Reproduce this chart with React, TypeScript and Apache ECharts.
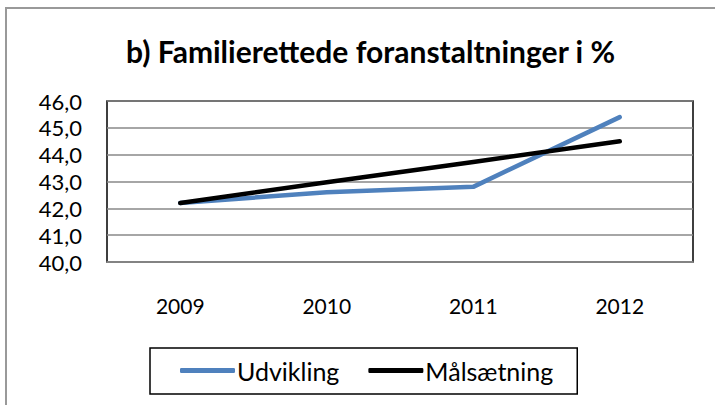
import React, { useEffect, useRef } from "react";
import * as echarts from "echarts";

const categories = ["2009", "2010", "2011", "2012"];
const udvikling = [42.2, 42.6, 42.8, 45.4];
const maalsaetning = [42.2, 42.97, 43.73, 44.5];
const titleText = "b) Familierettede foranstaltninger i %";
const seriesNames = ["Udvikling", "Målsætning"];

const FONT = "Lato, 'Noto Sans', sans-serif";

export default function App() {
  const ref = useRef<HTMLDivElement>(null);
  useEffect(() => {
    document.body.style.margin = "0";
    const chart = echarts.init(ref.current!, null, { renderer: "svg" });
    chart.setOption({
      animation: false,
      backgroundColor: "#fff",
      title: {
        text: titleText,
        left: 121,
        top: 31,
        textStyle: { fontFamily: FONT, fontSize: 30, fontWeight: "bold", color: "#000" },
      },
      graphic: [
        {
          type: "polyline",
          shape: { points: [[6, 405], [6, 8], [715, 8]] },
          style: { stroke: "#999", lineWidth: 2, fill: "none" },
        },
      ],
      grid: {
        left: 107,
        top: 101,
        right: 22,
        bottom: 143,
        show: true,
        borderColor: "#000",
        borderWidth: 1.5,
        containLabel: false,
      },
      legend: {
        data: seriesNames,
        left: 150,
        top: 348,
        icon: "roundRect",
        itemWidth: 55,
        itemHeight: 5,
        itemGap: 29,
        padding: [10, 24, 11, 30],
        borderColor: "#000",
        borderWidth: 1.5,
        textStyle: { fontFamily: FONT, fontSize: 25, color: "#000", padding: [0, 0, 0, -3] },
      },
      xAxis: {
        type: "category",
        data: categories,
        boundaryGap: true,
        axisLine: { show: true, lineStyle: { color: "#888", width: 1.5 } },
        axisTick: { show: false },
        axisLabel: { fontFamily: FONT, fontSize: 21, color: "#000", margin: 33 },
      },
      yAxis: {
        type: "value",
        min: 40,
        max: 46,
        interval: 1,
        axisLine: { show: false },
        axisTick: { show: false },
        splitLine: { lineStyle: { color: "#888", width: 1.5 } },
        axisLabel: {
          fontFamily: FONT,
          fontSize: 22,
          color: "#000",
          margin: 25,
          formatter: (v: number) => v.toFixed(1).replace(".", ","),
        },
      },
      series: [
        {
          name: seriesNames[0],
          type: "line",
          data: udvikling,
          symbol: "none",
          lineStyle: { color: "#4F81BD", width: 4.5, cap: "round", join: "round" },
          itemStyle: { color: "#4F81BD" },
        },
        {
          name: seriesNames[1],
          type: "line",
          data: maalsaetning,
          symbol: "none",
          lineStyle: { color: "#000", width: 4.5, cap: "round", join: "round" },
          itemStyle: { color: "#000" },
        },
      ],
    });
    return () => chart.dispose();
  }, []);
  return <div ref={ref} style={{ width: 715, height: 405 }} />;
}
